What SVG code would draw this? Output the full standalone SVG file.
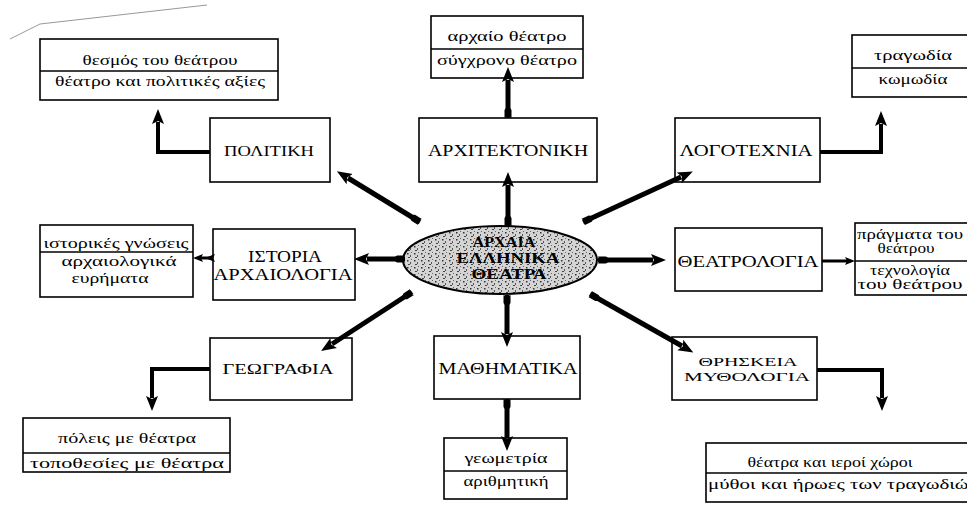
<svg xmlns="http://www.w3.org/2000/svg" width="967" height="511" viewBox="0 0 967 511">
<style>
.box{fill:#fff;stroke:#000;stroke-width:1.6}
.div{stroke:#000;stroke-width:1.4}
.cap{font-family:"Liberation Serif","DejaVu Serif",serif;fill:#000;text-anchor:middle}
.low{font-family:"Liberation Serif","DejaVu Serif",serif;font-size:14px;fill:#000;text-anchor:middle}
.main{fill:none;stroke:#000;stroke-width:5}
.elb{fill:none;stroke:#000;stroke-width:4}
.thin{fill:none;stroke:#000;stroke-width:3}
</style>
<defs>
<marker id="head" markerUnits="userSpaceOnUse" viewBox="0 0 16 14" markerWidth="16" markerHeight="14" refX="2" refY="7" orient="auto">
<path d="M0,1 L15,7 L0,13 L3,7 z" fill="#000"/>
</marker>
<marker id="tail" markerUnits="userSpaceOnUse" viewBox="0 0 14 10" markerWidth="14" markerHeight="10" refX="0" refY="5" orient="auto">
<path d="M0,1.5 L8,1.5 L13,5 L8,8.5 L0,8.5 L3,5 z" fill="#000"/>
</marker>
<marker id="shead" markerUnits="userSpaceOnUse" viewBox="0 0 10 8" markerWidth="10" markerHeight="8" refX="2" refY="4" orient="auto">
<path d="M0,0 L10,4 L0,8 L2,4 z" fill="#000"/>
</marker>
<pattern id="speck" width="7" height="7" patternUnits="userSpaceOnUse">
<rect width="7" height="7" fill="#d4d4d4"/>
<rect x="1" y="1" width="1.5" height="1.5" fill="#333"/>
<rect x="4" y="3" width="1" height="2" fill="#555"/>
<rect x="2" y="5" width="2" height="1" fill="#444"/>
<rect x="5" y="0" width="1" height="1" fill="#666"/>
</pattern>
</defs>

<polyline points="10,39 40,24 207,5" fill="none" stroke="#999" stroke-width="1"/>

<g id="center">
<ellipse cx="500" cy="260" rx="97" ry="34" fill="url(#speck)" stroke="#000" stroke-width="2"/>
<text class="cap" x="504" y="247" font-size="14" font-weight="bold" textLength="63" lengthAdjust="spacingAndGlyphs">ΑΡΧΑΙΑ</text>
<text class="cap" x="508" y="263" font-size="14" font-weight="bold" textLength="103" lengthAdjust="spacingAndGlyphs">ΕΛΛΗΝΙΚΑ</text>
<text class="cap" x="509" y="279" font-size="14" font-weight="bold" textLength="75" lengthAdjust="spacingAndGlyphs">ΘΕΑΤΡΑ</text>
</g>

<g id="politiki">
<rect class="box" x="210" y="118" width="120" height="64"/>
<text class="cap" x="269" y="156" font-size="15" textLength="90" lengthAdjust="spacingAndGlyphs">ΠΟΛΙΤΙΚΗ</text>
</g>
<g id="politiki-sub">
<rect class="box" x="40" y="39" width="238" height="61"/>
<line class="div" x1="40" y1="71" x2="278" y2="71"/>
<text class="low" x="160" y="65" textLength="155" lengthAdjust="spacingAndGlyphs">θεσμός του θεάτρου</text>
<text class="low" x="160" y="86" textLength="210" lengthAdjust="spacingAndGlyphs">θέατρο και πολιτικές αξίες</text>
</g>

<g id="architektoniki">
<rect class="box" x="419" y="118" width="178" height="64"/>
<text class="cap" x="508" y="156" font-size="16" textLength="160" lengthAdjust="spacingAndGlyphs">ΑΡΧΙΤΕΚΤΟΝΙΚΗ</text>
</g>
<g id="architektoniki-sub">
<rect class="box" x="431" y="16" width="152" height="62"/>
<line class="div" x1="431" y1="49" x2="583" y2="49"/>
<text class="low" x="507" y="41" textLength="119" lengthAdjust="spacingAndGlyphs">αρχαίο θέατρο</text>
<text class="low" x="507" y="65" textLength="140" lengthAdjust="spacingAndGlyphs">σύγχρονο θέατρο</text>
</g>

<g id="logotechnia">
<rect class="box" x="675" y="118" width="145" height="64"/>
<text class="cap" x="746" y="156" font-size="16" textLength="133" lengthAdjust="spacingAndGlyphs">ΛΟΓΟΤΕΧΝΙΑ</text>
</g>
<g id="logotechnia-sub">
<rect class="box" x="852" y="35" width="130" height="62"/>
<line class="div" x1="852" y1="68" x2="982" y2="68"/>
<text class="low" x="913" y="60" textLength="78" lengthAdjust="spacingAndGlyphs">τραγωδία</text>
<text class="low" x="913" y="84" textLength="69" lengthAdjust="spacingAndGlyphs">κωμωδία</text>
</g>

<g id="istoria">
<rect class="box" x="213" y="229" width="142" height="71"/>
<text class="cap" x="285" y="262" font-size="16" textLength="74" lengthAdjust="spacingAndGlyphs">ΙΣΤΟΡΙΑ</text>
<text class="cap" x="283" y="280" font-size="16" textLength="139" lengthAdjust="spacingAndGlyphs">ΑΡΧΑΙΟΛΟΓΙΑ</text>
</g>
<g id="istoria-sub">
<rect class="box" x="40" y="225" width="153" height="72"/>
<line class="div" x1="40" y1="252" x2="193" y2="252"/>
<text class="low" x="116" y="248" textLength="145" lengthAdjust="spacingAndGlyphs">ιστορικές γνώσεις</text>
<text class="low" x="119" y="266" textLength="115" lengthAdjust="spacingAndGlyphs">αρχαιολογικά</text>
<text class="low" x="110" y="283" textLength="77" lengthAdjust="spacingAndGlyphs">ευρήματα</text>
</g>

<g id="theatrologia">
<rect class="box" x="675" y="228" width="147" height="63"/>
<text class="cap" x="748" y="267" font-size="17" textLength="141" lengthAdjust="spacingAndGlyphs">ΘΕΑΤΡΟΛΟΓΙΑ</text>
</g>
<g id="theatrologia-sub">
<rect class="box" x="855" y="223" width="125" height="72"/>
<line class="div" x1="855" y1="261" x2="980" y2="261"/>
<text class="low" x="910" y="239" font-size="13" textLength="106" lengthAdjust="spacingAndGlyphs">πράγματα του</text>
<text class="low" x="906" y="253" font-size="13" textLength="57" lengthAdjust="spacingAndGlyphs">θεάτρου</text>
<text class="low" x="910" y="275" font-size="12" textLength="80" lengthAdjust="spacingAndGlyphs">τεχνολογία</text>
<text class="low" x="910" y="289" font-size="12" textLength="105" lengthAdjust="spacingAndGlyphs">του θεάτρου</text>
</g>

<g id="geografia">
<rect class="box" x="210" y="338" width="142" height="62"/>
<text class="cap" x="278" y="374" font-size="15" textLength="111" lengthAdjust="spacingAndGlyphs">ΓΕΩΓΡΑΦΙΑ</text>
</g>
<g id="geografia-sub">
<rect class="box" x="23" y="418" width="207" height="54"/>
<line class="div" x1="23" y1="453" x2="230" y2="453"/>
<text class="low" x="127" y="443" textLength="138" lengthAdjust="spacingAndGlyphs">πόλεις με θέατρα</text>
<text class="low" x="127" y="468" textLength="194" lengthAdjust="spacingAndGlyphs">τοποθεσίες με θέατρα</text>
</g>

<g id="mathimatika">
<rect class="box" x="434" y="336" width="146" height="63"/>
<text class="cap" x="508" y="374" font-size="16" textLength="139" lengthAdjust="spacingAndGlyphs">ΜΑΘΗΜΑΤΙΚΑ</text>
</g>
<g id="mathimatika-sub">
<rect class="box" x="444" y="438" width="123" height="61"/>
<line class="div" x1="444" y1="471" x2="567" y2="471"/>
<text class="low" x="506" y="463" textLength="83" lengthAdjust="spacingAndGlyphs">γεωμετρία</text>
<text class="low" x="506" y="486" textLength="85" lengthAdjust="spacingAndGlyphs">αριθμητική</text>
</g>

<g id="thriskeia">
<rect class="box" x="672" y="337" width="145" height="63"/>
<text class="cap" x="748" y="366" font-size="13" textLength="99" lengthAdjust="spacingAndGlyphs">ΘΡΗΣΚΕΙΑ</text>
<text class="cap" x="747" y="381" font-size="13" textLength="126" lengthAdjust="spacingAndGlyphs">ΜΥΘΟΛΟΓΙΑ</text>
</g>
<g id="thriskeia-sub">
<rect class="box" x="706" y="443" width="280" height="59"/>
<line class="div" x1="706" y1="473" x2="986" y2="473"/>
<text class="low" x="830" y="467" textLength="165" lengthAdjust="spacingAndGlyphs">θέατρα και ιεροί χώροι</text>
<text class="low" x="708" y="489" style="text-anchor:start" textLength="270" lengthAdjust="spacingAndGlyphs">μύθοι και ήρωες των τραγωδιών</text>
</g>

<g id="connectors">
<line class="main" x1="420" y1="222" x2="348" y2="178" marker-start="url(#tail)" marker-end="url(#head)"/>
<line class="main" x1="583" y1="222" x2="681" y2="177" marker-start="url(#tail)" marker-end="url(#head)"/>
<line class="main" x1="412" y1="292" x2="332" y2="344" marker-start="url(#tail)" marker-end="url(#head)"/>
<line class="main" x1="590" y1="294" x2="682" y2="346" marker-start="url(#tail)" marker-end="url(#head)"/>
<line class="main" x1="508" y1="226" x2="508" y2="185" marker-start="url(#tail)" marker-end="url(#head)"/>
<line class="main" x1="507" y1="295" x2="507" y2="334" marker-start="url(#tail)" marker-end="url(#head)"/>
<line class="main" x1="405" y1="259" x2="367" y2="259" marker-start="url(#tail)" marker-end="url(#head)"/>
<line class="main" x1="598" y1="260" x2="653" y2="260" marker-start="url(#tail)" marker-end="url(#head)"/>
<path class="elb" d="M210,152 H158 V122" marker-end="url(#head)"/>
<path class="elb" d="M820,152 H881 V124" marker-end="url(#head)"/>
<path class="elb" d="M210,369 H152 V398" marker-end="url(#head)"/>
<path class="elb" d="M817,370 H882 V398" marker-end="url(#head)"/>
<line class="main" x1="508" y1="118" x2="508" y2="80" marker-start="url(#tail)" marker-end="url(#head)"/>
<line class="main" x1="507" y1="399" x2="507" y2="438" marker-start="url(#tail)" marker-end="url(#head)"/>
<line class="thin" x1="213" y1="258" x2="201" y2="258" marker-start="url(#shead)" marker-end="url(#shead)"/>
<line class="thin" x1="822" y1="261" x2="847" y2="261" marker-end="url(#shead)"/>
</g>
</svg>
